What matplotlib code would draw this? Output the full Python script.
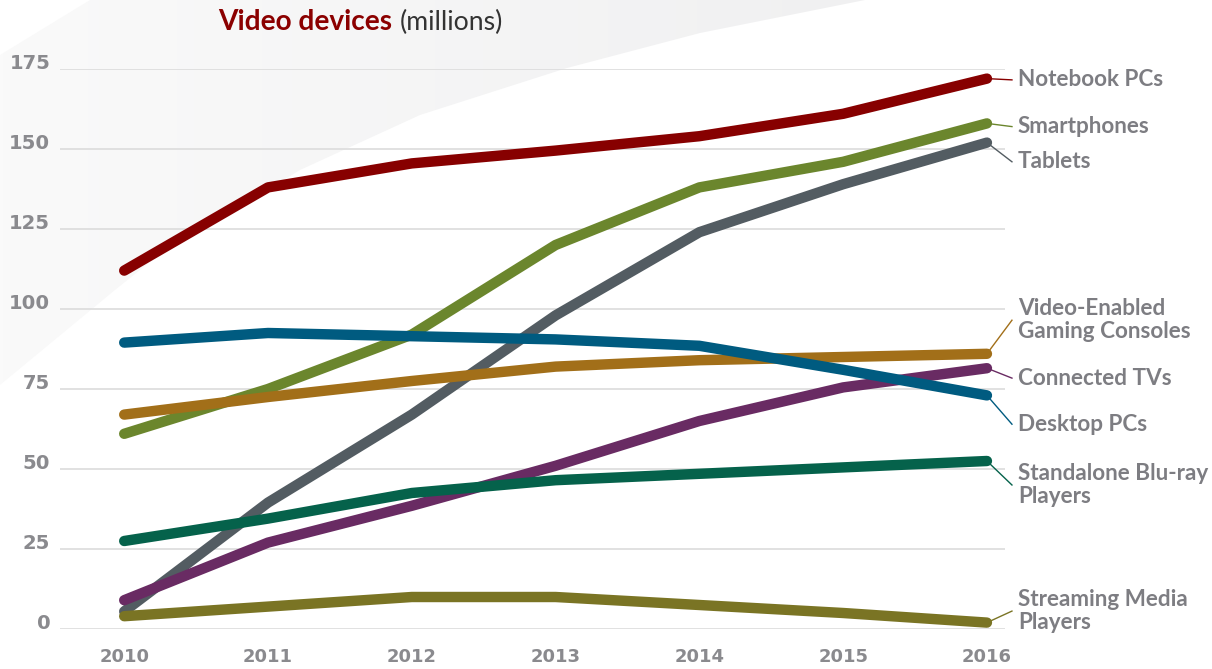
import numpy as np
import matplotlib.pyplot as plt
from matplotlib.patches import Polygon
from matplotlib.colors import LinearSegmentedColormap

# ── Data (millions of devices) ──
years = [2010, 2011, 2012, 2013, 2014, 2015, 2016]

notebook_pcs = [112, 138, 145.5, 149.5, 154, 161, 172]
smartphones = [61, 75, 92, 120, 138, 146, 158]
tablets = [5.5, 39.5, 67, 98, 124, 139, 152]
desktop_pcs = [89.5, 92.5, 91.5, 90.5, 88.5, 81, 73]
gaming_consoles = [67, 72.5, 77.5, 82, 84, 85, 86]
connected_tvs = [9, 27, 38.5, 51, 65, 75.5, 81.5]
bluray_players = [27.5, 34.5, 42.5, 46.5, 48.5, 50.5, 52.5]
streaming_players = [4, 7, 10, 10, 7.5, 5, 2]

series_names = ["Notebook PCs", "Smartphones", "Tablets",
                "Video-Enabled\nGaming Consoles", "Connected TVs",
                "Desktop PCs", "Standalone Blu-ray\nPlayers",
                "Streaming Media\nPlayers"]
series_values = [notebook_pcs, smartphones, tablets, gaming_consoles,
                 connected_tvs, desktop_pcs, bluray_players, streaming_players]

y_ticks = [0, 25, 50, 75, 100, 125, 150, 175]

# ── Style / layout ──
colors = ["#870000", "#6b862d", "#535c62", "#a26f19",
          "#692b63", "#005b80", "#05624b", "#7a7424"]
label_y = [171.6, 157, 146, 96.5, 78.4, 64, 45, 5.6]   # label anchor (data units)
LABEL_GRAY = "#7d7d82"
TICK_GRAY = "#8a8a8e"

fig = plt.figure(figsize=(12.12, 6.69), dpi=100)
renderer = fig.canvas.get_renderer()


def fit_size(text, target_px, **kw):
    """font size that makes `text` about target_px wide"""
    t = fig.text(0, 0, text, fontsize=20, **kw)
    w = t.get_window_extent(renderer).width
    t.remove()
    return 20 * target_px / w


# ── Background swoosh (light gray gradient, top-left) ──
bg = fig.add_axes([0, 0, 1, 1], zorder=-1)
bg.set_xlim(0, 1212)
bg.set_ylim(669, 0)
bg.axis("off")
swoosh = Polygon([(0, 55), (90, 0), (865, 0), (700, 33), (567, 68),
                  (420, 115), (300, 170), (150, 262), (115, 290), (0, 385)],
                 closed=True, facecolor="none", edgecolor="none")
bg.add_patch(swoosh)
cmap = LinearSegmentedColormap.from_list("sw", ["#fafafa", "#f0f0f1"])
grad = np.linspace(0, 1, 256).reshape(1, -1)
im = bg.imshow(grad, cmap=cmap, extent=[0, 870, 390, 0], aspect="auto")
im.set_clip_path(swoosh)

# ── Main axes ──
ax = fig.add_axes([60 / 1212, 1 - 629 / 669, 945 / 1212, 560 / 669])
ax.patch.set_alpha(0)
ax.set_xlim(2010 - 64 / 143.3, 2016 + 18 / 143.3)
ax.set_ylim(0, 175)

for spine in ax.spines.values():
    spine.set_visible(False)

ytick_size = fit_size("100", 41, fontweight="bold", family="DejaVu Sans")
xtick_size = fit_size("2010", 50, fontweight="bold", family="DejaVu Sans")

ax.set_yticks(y_ticks)
ax.set_yticklabels([str(t) for t in y_ticks])
ax.set_xticks(years)
ax.set_xticklabels([str(y) for y in years])
ax.tick_params(axis="both", length=0, colors=TICK_GRAY)
ax.tick_params(axis="y", pad=7)
ax.tick_params(axis="x", pad=14)
for lab in ax.get_yticklabels():
    lab.set_fontsize(ytick_size)
    lab.set_fontweight("bold")
    lab.set_family("DejaVu Sans")
    lab.set_verticalalignment("baseline")
for lab in ax.get_xticklabels():
    lab.set_fontsize(xtick_size)
    lab.set_fontweight("bold")
    lab.set_family("DejaVu Sans")

ax.grid(axis="y", color="#dcdcdc", linewidth=1.2)
ax.set_axisbelow(True)

label_size = fit_size("Notebook PCs", 146, fontweight="bold", family="Lato")

for name, vals, col, ly in zip(series_names, series_values, colors, label_y):
    ax.plot(years, vals, color=col, linewidth=7.5, solid_capstyle="round",
            solid_joinstyle="round", clip_on=False, zorder=3)
    # leader line to the label
    ax.plot([years[-1], 2016.174], [vals[-1], ly], color=col, linewidth=1,
            clip_on=False, zorder=2)
    ax.text(2016.216, ly, name, color=LABEL_GRAY, fontsize=label_size,
            fontweight="bold", family="Lato", va="center", ha="left",
            linespacing=1.15)

# ── Title ──
title_size = fit_size("Video devices", 174, fontweight="bold", family="Lato")
sub_size = fit_size("(millions)", 103, family="Lato")
t1 = fig.text(218 / 1212, 1 - 22 / 669, "Video devices", color="#8b0000",
              fontsize=title_size, fontweight="bold", family="Lato", va="center")
bb = t1.get_window_extent(renderer)
fig.text((bb.x1 + 8) / 1212, 1 - 22 / 669, "(millions)", color="#333333",
         fontsize=sub_size, family="Lato", va="center")

fig.savefig("out.png", dpi=100)
